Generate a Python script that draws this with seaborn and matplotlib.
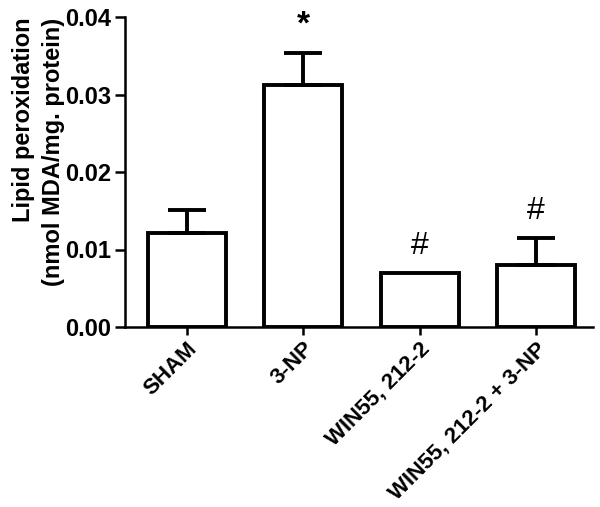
import numpy as np
import pandas as pd
import matplotlib
matplotlib.use("Agg")
import matplotlib.pyplot as plt
import seaborn as sns

groups = ["SHAM", "3-NP", "WIN55, 212-2", "WIN55, 212-2 + 3-NP"]
means = [0.0121, 0.0312, 0.0070, 0.0080]
sem = [0.0030, 0.0042, 0.0000, 0.0035]
marks = ["", "*", "#", "#"]

sns.set_theme(style="ticks")
plt.rcParams["font.family"] = ["Liberation Sans", "DejaVu Sans"]
plt.rcParams.update({"text.color": "black", "axes.labelcolor": "black",
                     "xtick.color": "black", "ytick.color": "black",
                     "axes.edgecolor": "black"})

df = pd.DataFrame({"group": groups, "value": means})

fig = plt.figure(figsize=(6, 5.07), dpi=100)
ax = fig.add_axes([125 / 600, 1 - 327 / 507, 468 / 600, 310 / 507])

sns.barplot(data=df, x="group", y="value", color="white", edgecolor="black",
            linewidth=2.8, width=0.67, errorbar=None, ax=ax)

# upper-only error bars, GraphPad style (skip the ones with no spread)
x = np.arange(len(groups))
has_err = np.array(sem) > 0
ax.errorbar(x[has_err], np.array(means)[has_err],
            yerr=[np.zeros(has_err.sum()), np.array(sem)[has_err]],
            fmt="none", ecolor="black", elinewidth=2.8, capsize=13.5,
            capthick=2.8, zorder=1)

for i, m in enumerate(marks):
    if not m:
        continue
    top = means[i] + sem[i]
    if m == "*":
        ax.text(i, top + 0.0035, m, ha="center", va="center", fontsize=24,
                fontweight="bold")
    else:
        ax.text(i, top + 0.0035, m, ha="center", va="center", fontsize=23)

ax.set_ylim(0, 0.04)
ax.set_xlim(-0.53, 3.49)
ax.set_yticks([0.0, 0.01, 0.02, 0.03, 0.04])
ax.set_yticklabels(["0.00", "0.01", "0.02", "0.03", "0.04"])
ax.set_xlabel("")
ax.set_ylabel("Lipid peroxidation\n(nmol MDA/mg. protein)", fontsize=17,
              fontweight="bold", linespacing=1.4, multialignment="right")
ax.yaxis.set_label_coords(-0.128, 0.565)

for lbl in ax.get_yticklabels():
    lbl.set_fontweight("bold")
    lbl.set_fontsize(17)
ax.set_xticks(x)
ax.set_xticklabels(groups, rotation=45, ha="right", rotation_mode="anchor",
                   fontsize=16, fontweight="bold")

ax.tick_params(axis="both", width=1.8, length=7, color="black", pad=3)
ax.tick_params(axis="x", length=6, pad=2)
sns.despine(ax=ax)
for side in ["left", "bottom"]:
    ax.spines[side].set_linewidth(1.8)

fig.savefig("out.png", dpi=100)
